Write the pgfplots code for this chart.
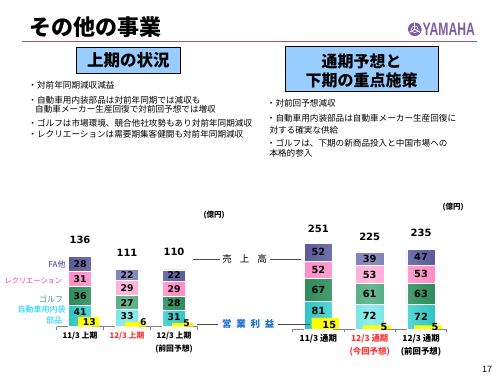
\documentclass[border=0pt]{standalone}
\usepackage{pgfplots}
\pgfplotsset{compat=1.18}
\usepackage{fontspec}
\setmainfont{Noto Sans CJK JP}
\newfontfamily\numfont{DejaVu Sans}
\newfontfamily\latinfont{Liberation Sans}
\newcommand\fs[2]{\fontsize{#1bp}{#2bp}\selectfont}
\definecolor{yam}{HTML}{7D5BA6}
\definecolor{boxblue}{HTML}{99CCFF}
\definecolor{faE}{HTML}{5B5B9A}\definecolor{faM}{HTML}{8E8EC4}
\definecolor{pkE}{HTML}{FF8CC6}\definecolor{pkM}{HTML}{FFBADD}
\definecolor{gnE}{HTML}{2E8B5A}\definecolor{gnM}{HTML}{66B890}
\definecolor{cyE}{HTML}{2EC4C4}\definecolor{cyM}{HTML}{90EEEE}
\definecolor{fatxt}{HTML}{333399}
\definecolor{pktxt}{HTML}{FF3399}
\definecolor{gntxt}{HTML}{339999}
\definecolor{cytxt}{HTML}{00CCFF}
\definecolor{redtxt}{HTML}{FF3333}
\definecolor{bluetxt}{HTML}{1F6FD0}
\definecolor{basegray}{HTML}{808080}
\definecolor{profit}{HTML}{FFFF00}
\pgfplotsset{
  segbar/.style={draw=white, line width=0.7bp},
  base/.style={scale only axis, anchor=south west, xmin=-0.5, xmax=2.5, ymin=0, clip=false},
  labelplot/.style={draw=none, mark=none, nodes near coords, point meta=explicit symbolic,
     nodes near coords align={center},
     every node near coord/.append style={anchor=center, inner sep=0pt, font=#1}},
  catax/.style={hide y axis, axis x line*=bottom, x axis line style={-, draw=basegray, line width=0.8bp},
     xtick={0,1,2}, major tick length=0pt, tick align=outside,
     xticklabel style={align=center, anchor=north, yshift=-2bp},
     extra x ticks={-0.5,0.5,1.5,2.5}, extra x tick labels={},
     extra x tick style={major tick length=3bp, tick align=outside, tick style={draw=basegray, line width=0.8bp}}},
}
\begin{document}
\begin{tikzpicture}[x=1bp,y=1bp]
\fill[white] (0,0) rectangle (500,375);
\path[use as bounding box] (0,0) rectangle (500,375);

% ---------- header ----------
\node[anchor=west, inner sep=0pt, font=\fs{22}{24}\bfseries] at (29,347.5) {その他の事業};
\draw[yam, line width=1.3bp] (21.7,333.3) -- (477.3,333.3);
\fill[yam] (414.8,345.7) circle (6.8);
\draw[white, line width=0.6bp] (414.8,345.7) circle (3.4);
\foreach \a in {90,210,330} \draw[white,line width=0.9bp] (414.8,345.7) -- ++(\a:6);
\node[anchor=west, inner sep=0pt, text=yam, xscale=0.675, font=\latinfont\bfseries\fs{18}{20}] at (422.5,345.5) {YAMAHA};

% ---------- boxes ----------
\draw[fill=boxblue, line width=0.9bp] (76.7,327.3) rectangle (180,301.7);
\node[font=\fs{16.5}{18}\bfseries] at (128.3,314.5) {上期の状況};
\draw[fill=boxblue, line width=0.9bp] (285,329) rectangle (438.3,283.3);
\node[font=\fs{16}{18}\bfseries] at (361.7,313.3) {通期予想と};
\node[font=\fs{16}{18}\bfseries] at (361.7,295) {下期の重点施策};

% ---------- bullets ----------
\begin{scope}[every node/.style={anchor=west, inner sep=0pt, font=\fs{8.6}{10}}]
\node at (28.3,290) {・対前年同期減収減益};
\node at (28.3,275) {・自動車用内装部品は対前年同期では減収も};
\node at (35,265.7) {自動車メーカー生産回復で対前回予想では増収};
\node at (28.3,251.7) {・ゴルフは市場環境、競合他社攻勢もあり対前年同期減収};
\node at (28.3,240.7) {・レクリエーションは需要期集客健闘も対前年同期減収};
\node at (266.7,271.7) {・対前回予想減収};
\node at (266.7,256.7) {・自動車用内装部品は自動車メーカー生産回復に};
\node at (269.3,245) {対する確実な供給};
\node at (266.7,232.3) {・ゴルフは、下期の新商品投入と中国市場への};
\node at (269.3,221.7) {本格的参入};
\end{scope}

% ---------- left chart ----------
\begin{axis}[base, at={(56.5bp,48.5bp)}, width=141bp, height=77.25bp, ymax=150,
  ybar stacked, bar width=23.3bp, catax,
  xticklabels={11/3 上期, \textcolor{redtxt}{12/3 上期}, 12/3 上期\\(前回予想)},
  xticklabel style={font=\fs{7.8}{13.3}\bfseries}]
\addplot[segbar, left color=cyE, right color=cyE, middle color=cyM] coordinates {(0,41) (1,33) (2,31)};
\addplot[segbar, left color=gnE, right color=gnE, middle color=gnM] coordinates {(0,36) (1,27) (2,28)};
\addplot[segbar, left color=pkE, right color=pkE, middle color=pkM] coordinates {(0,31) (1,29) (2,29)};
\addplot[segbar, left color=faE, right color=faE, middle color=faM] coordinates {(0,28) (1,22) (2,22)};
\end{axis}
\begin{axis}[base, at={(56.5bp,48.5bp)}, width=141bp, height=15bp, ymax=20, hide axis, ybar]
\addplot[fill=profit, draw=none, bar width=21bp, bar shift=8.7bp] coordinates {(0,13) (1,6) (2,5)};
\end{axis}
\begin{axis}[base, at={(56.5bp,48.5bp)}, width=141bp, height=77.25bp, ymax=150, hide axis]
\addplot[labelplot={\numfont\bfseries\fs{9.3}{11}}] coordinates {
 (0,28)[41] (0,59)[36] (0,92.5)[31] (0,122)[28]
 (1,20.4)[33] (1,46.5)[27] (1,74.5)[29] (1,100)[22]
 (2,17.9)[31] (2,45)[28] (2,73.5)[29] (2,99)[22]
 (0.198,9.3)[13] (1.347,8.7)[6] (2.270,5.8)[5]};
\addplot[labelplot={\numfont\bfseries\fs{10}{12}}] coordinates {(0,168)[136] (1,143.3)[111] (2,144.7)[110]};
\end{axis}

% ---------- right chart ----------
\begin{axis}[base, at={(292.7bp,46bp)}, width=154bp, height=102bp, ymax=300,
  ybar stacked, bar width=28.3bp, catax,
  xticklabels={11/3 通期, \textcolor{redtxt}{12/3 通期}\\\textcolor{redtxt}{(今回予想)}, 12/3 通期\\(前回予想)},
  xticklabel style={font=\fs{8.4}{12.4}\bfseries}]
\addplot[segbar, left color=cyE, right color=cyE, middle color=cyM] coordinates {(0,81) (1,72) (2,72)};
\addplot[segbar, left color=gnE, right color=gnE, middle color=gnM] coordinates {(0,67) (1,61) (2,63)};
\addplot[segbar, left color=pkE, right color=pkE, middle color=pkM] coordinates {(0,52) (1,53) (2,53)};
\addplot[segbar, left color=faE, right color=faE, middle color=faM] coordinates {(0,52) (1,39) (2,47)};
\end{axis}
\begin{axis}[base, at={(292.7bp,46bp)}, width=154bp, height=15bp, ymax=20, hide axis, ybar]
\addplot[fill=profit, draw=none, bar width=27.7bp, bar shift=7bp] coordinates {(0,15) (1,5) (2,5)};
\end{axis}
\begin{axis}[base, at={(292.7bp,46bp)}, width=154bp, height=102bp, ymax=300, hide axis]
\addplot[labelplot={\numfont\bfseries\fs{9.8}{11}}] coordinates {
 (0,52)[81] (0,114.5)[67] (0,174)[52] (0,226)[52]
 (1,38)[72] (1,102.5)[61] (1,159.5)[53] (1,205.5)[39]
 (2,36)[72] (2,103.5)[63] (2,161.5)[53] (2,211.5)[47]
 (0.213,11.8)[15] (1.279,6.8)[5] (2.272,5)[5]};
\addplot[labelplot={\numfont\bfseries\fs{10}{12}}] coordinates {(0,296)[251] (1,271.5)[225] (2,283.2)[235]};
\end{axis}

% ---------- side labels ----------
\begin{scope}[every node/.style={anchor=east, inner sep=0pt, font=\fs{8}{10}}]
\node[text=fatxt] at (65.7,110.7) {FA他};
\node[text=pktxt, font=\fs{7.2}{9}] at (62.3,94) {レクリエーション};
\node[text=gntxt] at (63.3,76) {ゴルフ};
\node[text=cytxt] at (65.7,65.7) {自動車用内装};
\node[text=cytxt] at (62.3,54.3) {部品};
\end{scope}
\node[font=\fs{7.5}{9}\bfseries] at (214,160) {(億円)};
\node[font=\fs{7.5}{9}\bfseries] at (453,167.7) {(億円)};
\node[font=\latinfont\fs{9}{10}] at (487,6) {17};

% connectors
\draw[black!70, line width=0.6bp] (193,116) -- (220,116);
\draw[black!70, line width=0.6bp] (270,116) -- (301,116);
\node[font=\fs{9.5}{11}] at (244.5,116) {売\hspace{8bp}上\hspace{8bp}高};
\draw[black!70, line width=0.6bp] (197,51) -- (218,51);
\draw[black!70, line width=0.6bp] (278,51) -- (310,51);
\node[text=bluetxt, font=\fs{9.5}{11}\bfseries] at (248.3,51.5) {営\hspace{4.8bp}業\hspace{4.8bp}利\hspace{4.8bp}益};
\end{tikzpicture}
\end{document}
